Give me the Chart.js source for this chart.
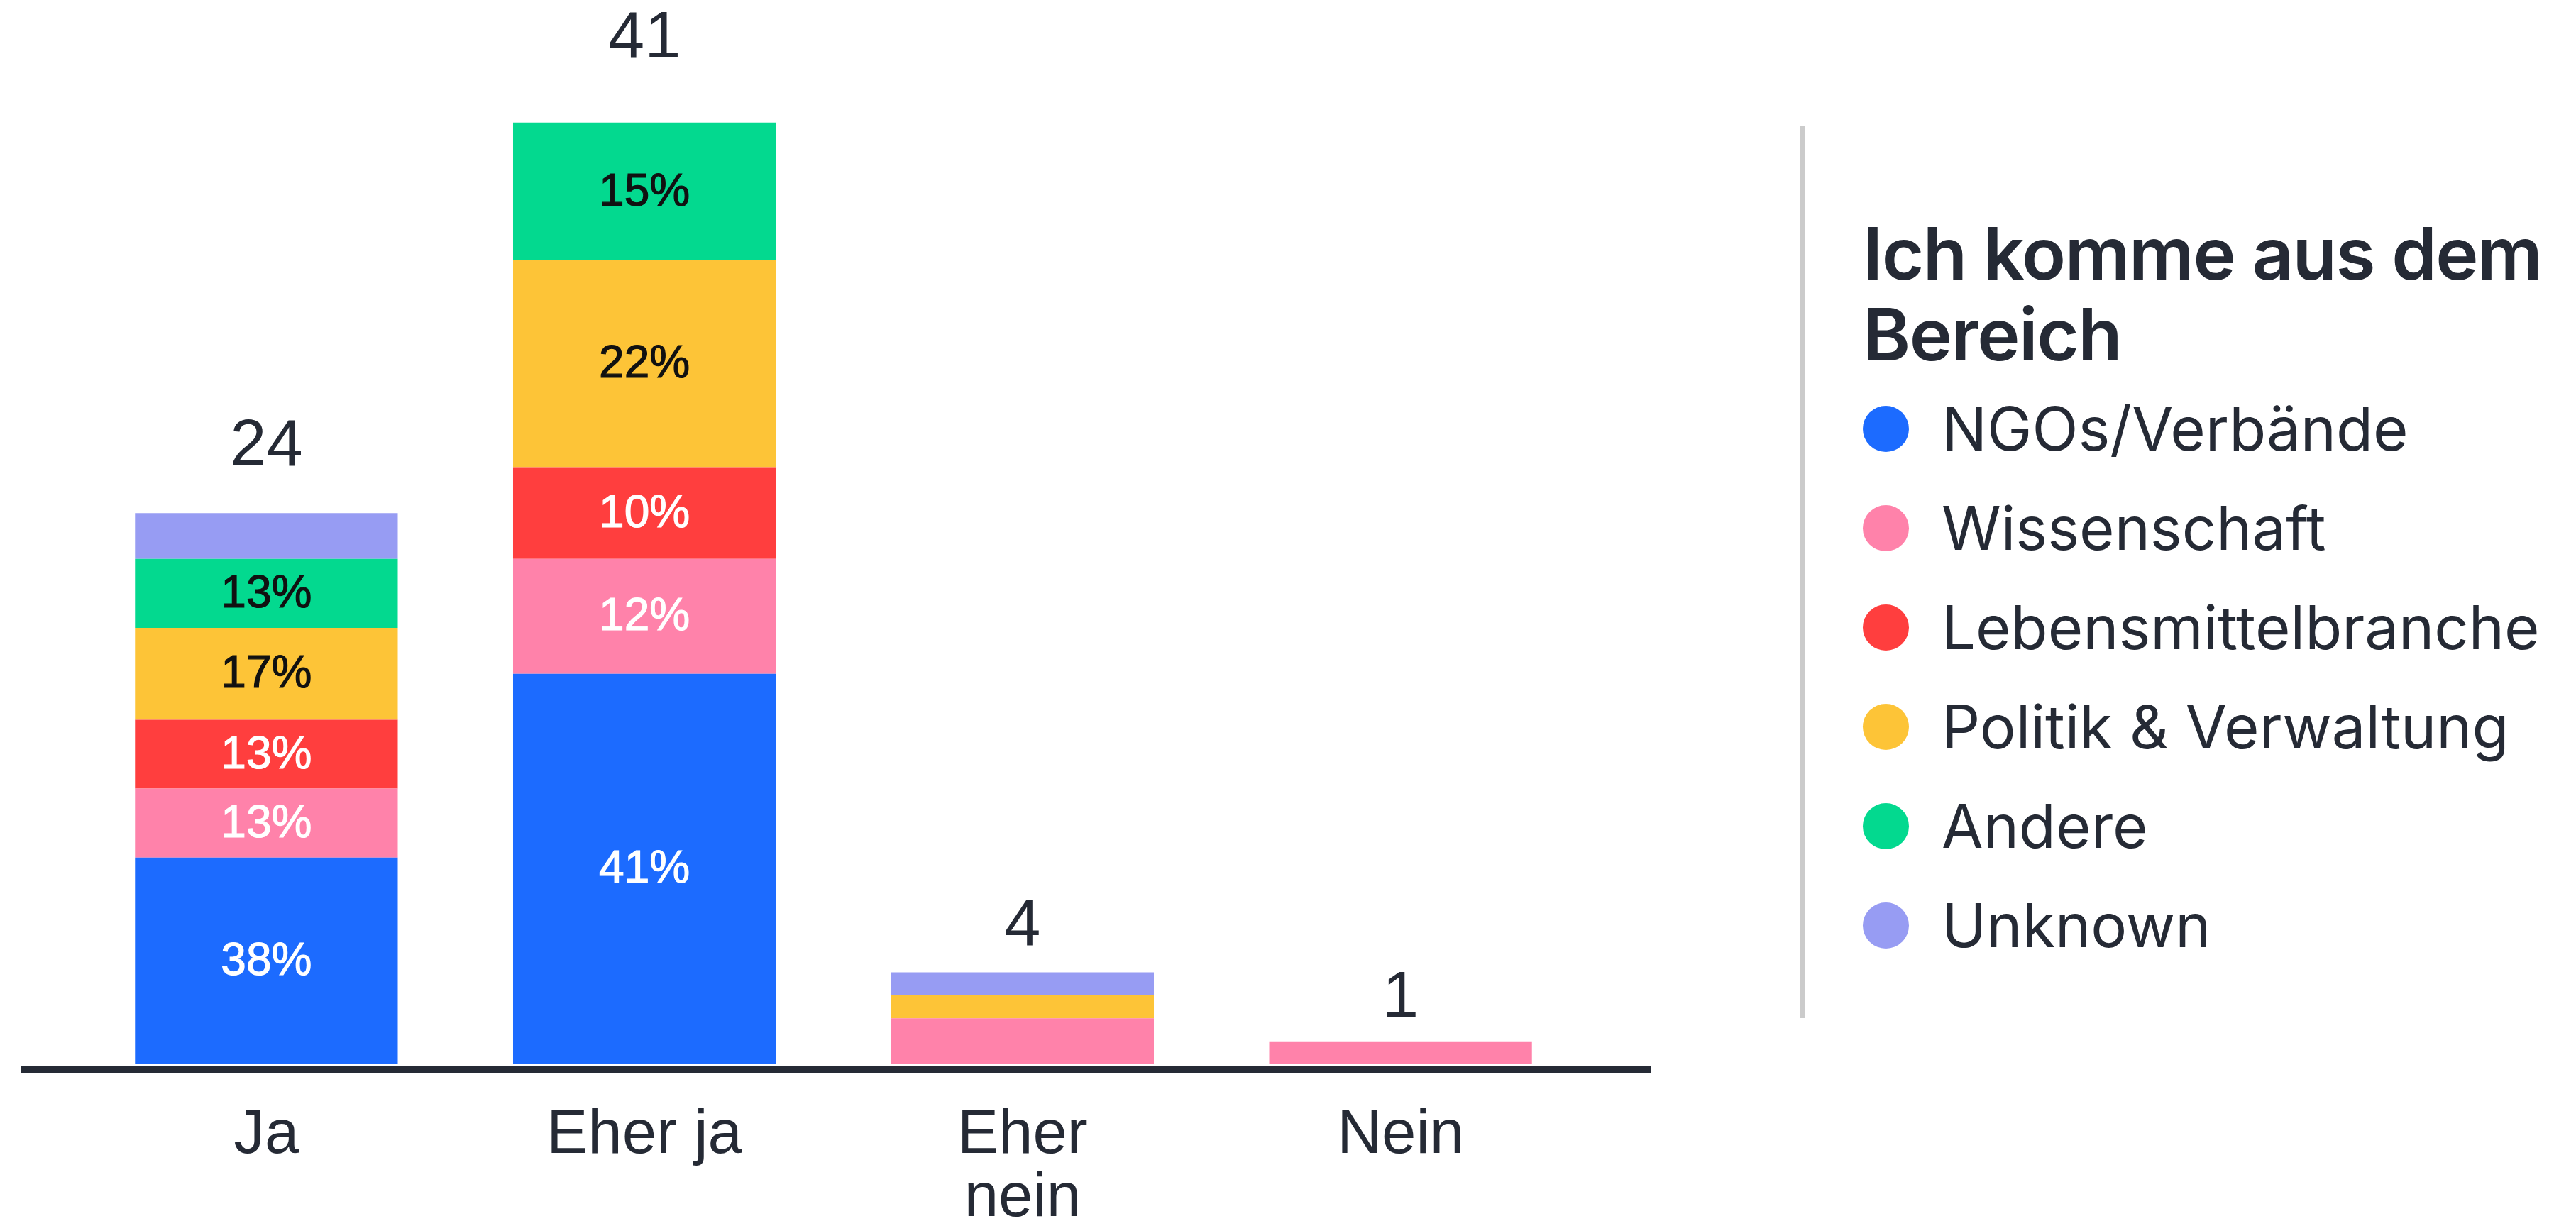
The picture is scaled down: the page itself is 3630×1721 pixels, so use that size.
<!DOCTYPE html>
<html lang="de">
<head>
<meta charset="utf-8">
<title>Ich komme aus dem Bereich</title>
<script src="https://cdn.jsdelivr.net/npm/chart.js@4.4.1/dist/chart.umd.min.js"></script>
<style>
  html, body { margin: 0; padding: 0; background: #fff; }
  body { width: 3630px; height: 1721px; position: relative; overflow: hidden; }
  #chart-wrap { position: absolute; left: 0; top: 0; width: 2500px; height: 1721px; }
  #divider { position: absolute; left: 2537px; top: 178px; width: 6px; height: 1257px; background: #cbcbcb; }
  #legend { position: absolute; left: 2625px; top: 300px; color: #252a35; font-family: Inter, "Noto Sans", sans-serif; }
  #legend h2 { margin: 0; font-size: 102px; line-height: 114px; font-weight: 600; letter-spacing: -1.5px; white-space: nowrap; }
  #legend ul { list-style: none; margin: 6px 0 0 0; padding: 0; }
  #legend li { display: flex; align-items: center; height: 140px; font-size: 85px; white-space: nowrap; }
  #legend .dot { width: 65px; height: 65px; border-radius: 50%; margin-right: 46px; flex: none; }
</style>
</head>
<body>
<div id="chart-wrap"><canvas id="chart"></canvas></div>
<div id="divider"></div>
<div id="legend">
  <h2>Ich komme aus dem<br>Bereich</h2>
  <ul id="legend-items"></ul>
</div>
<script>
// answers per category, split by sector
const categories = ['Ja', 'Eher ja', ['Eher', 'nein'], 'Nein'];
const seriesNames = ['NGOs/Verbände', 'Wissenschaft', 'Lebensmittelbranche', 'Politik & Verwaltung', 'Andere', 'Unknown'];
const ngos = [9, 17, 0, 0];
const wissenschaft = [3, 5, 2, 1];
const lebensmittel = [3, 4, 0, 0];
const politik = [4, 9, 1, 0];
const andere = [3, 6, 0, 0];
const unknown = [2, 0, 1, 0];

const seriesColors = ['#1c6bff', '#ff82aa', '#ff3e3e', '#fdc437', '#03d98f', '#979cf3'];
const labelColors = ['#ffffff', '#ffffff', '#ffffff', '#111111', '#111111', '#111111'];
const textColor = '#252a35';

const seriesValues = [ngos, wissenschaft, lebensmittel, politik, andere, unknown];
const totals = categories.map((c, i) => seriesValues.reduce((sum, s) => sum + s[i], 0));

// percentage inside each segment, only where the segment is tall enough
const segmentLabels = {
  id: 'segmentLabels',
  afterDatasetsDraw(chart) {
    const ctx = chart.ctx;
    ctx.save();
    ctx.font = '64px "Liberation Sans", Arial, sans-serif';
    ctx.textAlign = 'center';
    ctx.textBaseline = 'middle';
    ctx.lineWidth = 1.2;
    chart.data.datasets.forEach((ds, di) => {
      const meta = chart.getDatasetMeta(di);
      meta.data.forEach((bar, i) => {
        const value = ds.data[i];
        const h = bar.base - bar.y;
        if (!value || h < 80) return;
        const pct = Math.round(value / totals[i] * 100) + '%';
        const cy = (bar.y + bar.base) / 2 + 2;
        ctx.fillStyle = labelColors[di];
        ctx.strokeStyle = labelColors[di];
        ctx.fillText(pct, bar.x, cy);
        ctx.strokeText(pct, bar.x, cy);
      });
    });
    ctx.restore();
  }
};

// totals above the stacks and the long baseline
const totalsAndBaseline = {
  id: 'totalsAndBaseline',
  afterDatasetsDraw(chart) {
    const ctx = chart.ctx;
    const area = chart.chartArea;
    const x = chart.scales.x;
    const y = chart.scales.y;
    ctx.save();
    ctx.fillStyle = textColor;
    ctx.fillRect(area.left - 79, area.bottom + 2, area.right - area.left + 79 + 86, 11);

    ctx.font = '92px "Liberation Sans", Arial, sans-serif';
    ctx.textAlign = 'center';
    ctx.textBaseline = 'alphabetic';
    totals.forEach((t, i) => {
      ctx.fillText(String(t), x.getPixelForValue(i), y.getPixelForValue(t * 1.045 + 1));
    });
    ctx.restore();
  }
};

const datasets = seriesNames.map((name, i) => ({
  label: name,
  data: seriesValues[i],
  backgroundColor: seriesColors[i],
  borderWidth: 0,
  categoryPercentage: 1,
  barPercentage: 0.695
}));

new Chart(document.getElementById('chart'), {
  type: 'bar',
  data: { labels: categories, datasets: datasets },
  options: {
    responsive: true,
    maintainAspectRatio: false,
    animation: false,
    layout: { padding: { left: 109, right: 260, top: 11, bottom: 0 } },
    plugins: {
      legend: { display: false },
      tooltip: { enabled: false }
    },
    scales: {
      x: {
        stacked: true,
        grid: { display: false },
        border: { display: false },
        ticks: {
          color: textColor,
          padding: 48,
          font: { family: '"Liberation Sans", Arial, sans-serif', size: 87, lineHeight: 1.03 }
        },
        afterFit(scale) { scale.height = 221; }
      },
      y: {
        stacked: true,
        display: false,
        min: 0,
        max: 46
      }
    }
  },
  plugins: [segmentLabels, totalsAndBaseline]
});

// legend entries
const list = document.getElementById('legend-items');
seriesNames.forEach((name, i) => {
  const li = document.createElement('li');
  const dot = document.createElement('span');
  dot.className = 'dot';
  dot.style.background = seriesColors[i];
  li.appendChild(dot);
  li.appendChild(document.createTextNode(name));
  list.appendChild(li);
});
</script>
</body>
</html>
